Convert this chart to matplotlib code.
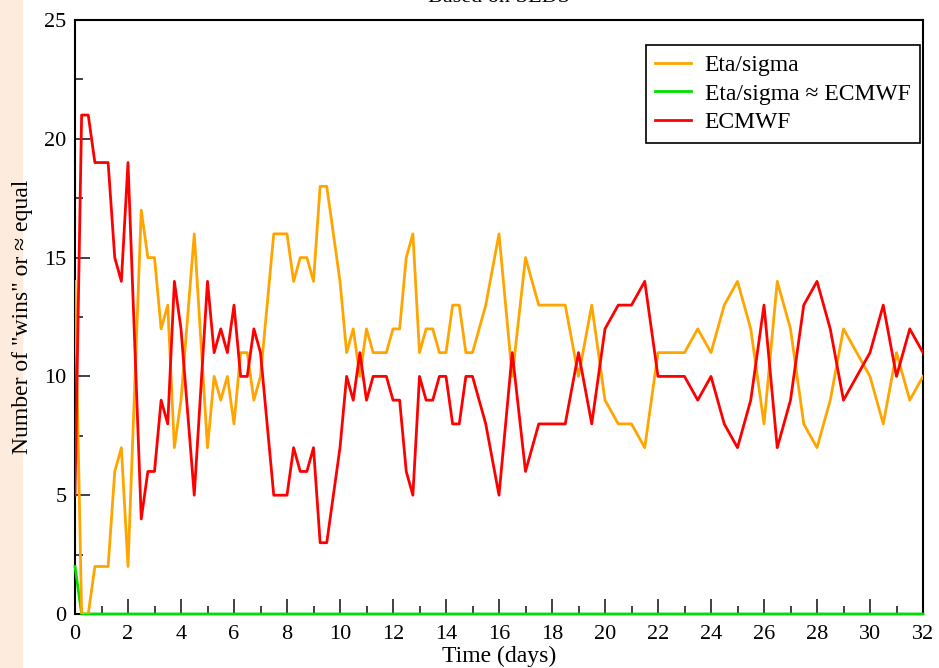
import matplotlib
matplotlib.use("Agg")
import matplotlib.pyplot as plt
from matplotlib.patches import Rectangle
from matplotlib.ticker import MultipleLocator

plt.rcParams['font.family'] = ['Liberation Serif', 'DejaVu Serif']

# Temps (jours) et nombre de "victoires"
time_days = [0, 0.25, 0.5, 0.75, 1.0, 1.25, 1.5, 1.75, 2.0, 2.5, 2.75, 3.0,
             3.25, 3.5, 3.75, 4.0, 4.5, 5.0, 5.25, 5.5, 5.75, 6.0, 6.25, 6.5,
             6.75, 7.0, 7.5, 8.0, 8.25, 8.5, 8.75, 9.0, 9.25, 9.5, 10.0, 10.25,
             10.5, 10.75, 11.0, 11.25, 11.75, 12.0, 12.25, 12.5, 12.75, 13.0,
             13.25, 13.5, 13.75, 14.0, 14.25, 14.5, 14.75, 15.0, 15.5, 16.0,
             16.5, 17.0, 17.5, 18.5, 19.0, 19.5, 20.0, 20.5, 21.0, 21.5, 22.0,
             23.0, 23.5, 24.0, 24.5, 25.0, 25.5, 26.0, 26.5, 27.0, 27.5, 28.0,
             28.5, 29.0, 30.0, 30.5, 31.0, 31.5, 32.0]

eta_sigma = [14, 0, 0, 2, 2, 2, 6, 7, 2, 17, 15, 15,
             12, 13, 7, 9, 16, 7, 10, 9, 10, 8, 11, 11,
             9, 10, 16, 16, 14, 15, 15, 14, 18, 18, 14, 11,
             12, 10, 12, 11, 11, 12, 12, 15, 16, 11,
             12, 12, 11, 11, 13, 13, 11, 11, 13, 16,
             10, 15, 13, 13, 10, 13, 9, 8, 8, 7, 11,
             11, 12, 11, 13, 14, 12, 8, 14, 12, 8, 7,
             9, 12, 10, 8, 11, 9, 10]

ecmwf = [5, 21, 21, 19, 19, 19, 15, 14, 19, 4, 6, 6,
         9, 8, 14, 12, 5, 14, 11, 12, 11, 13, 10, 10,
         12, 11, 5, 5, 7, 6, 6, 7, 3, 3, 7, 10,
         9, 11, 9, 10, 10, 9, 9, 6, 5, 10,
         9, 9, 10, 10, 8, 8, 10, 10, 8, 5,
         11, 6, 8, 8, 11, 8, 12, 13, 13, 14, 10,
         10, 9, 10, 8, 7, 9, 13, 7, 9, 13, 14,
         12, 9, 11, 13, 10, 12, 11]

equal_time = [0, 0.25, 32]
equal_vals = [2, 0, 0]

fig = plt.figure(figsize=(9.39, 6.68), dpi=100)
# bande beige à gauche
fig.patches.append(Rectangle((0, 0), 22 / 939, 1, transform=fig.transFigure,
                             color='#fdecdd', zorder=-10))
ax = fig.add_axes([75 / 939, 1 - 614 / 668, 848 / 939, 594 / 668])

ax.plot(equal_time, equal_vals, color='#00e000', lw=2, label='Eta/sigma \u2248 ECMWF',
        clip_on=False, zorder=3)
ax.plot(time_days, eta_sigma, color='orange', lw=2, label='Eta/sigma', zorder=4)
ax.plot(time_days, ecmwf, color='red', lw=2, label='ECMWF', zorder=5)

ax.set_xlim(0, 32)
ax.set_ylim(0, 25)
ax.xaxis.set_major_locator(MultipleLocator(2))
ax.xaxis.set_minor_locator(MultipleLocator(1))
ax.yaxis.set_major_locator(MultipleLocator(5))
ax.yaxis.set_minor_locator(MultipleLocator(2.5))
ax.tick_params(which='both', direction='in', top=False, right=False,
               labelsize=16, color='#333333', width=1.3)
ax.tick_params(axis='x', pad=8)
ax.tick_params(axis='y', pad=6)
ax.tick_params(which='major', length=11)
ax.tick_params(which='minor', length=6)
for sp in ax.spines.values():
    sp.set_linewidth(1.5)

ax.set_xlabel('Time (days)', fontsize=17)
ax.xaxis.set_label_coords(0.5, -(656 - 614) / 594)
ax.xaxis.label.set_va('center')
ax.set_ylabel('Number of "wins" or \u2248 equal', fontsize=17)
ax.yaxis.set_label_coords(-(75 - 23) / 848, 0.5)
ax.yaxis.label.set_va('center')
fig.text(499 / 939, 1.003, 'Based on SEDS', ha='center', va='center', fontsize=16)

handles, labels = ax.get_legend_handles_labels()
order = [1, 0, 2]
leg = ax.legend([handles[i] for i in order], [labels[i] for i in order],
                loc='upper right', bbox_to_anchor=((920 - 75) / 848, (614 - 45) / 594),
                borderaxespad=0, fontsize=17,
                fancybox=False, framealpha=1, edgecolor='black',
                handlelength=1.5, labelspacing=0.3, borderpad=0.4,
                handletextpad=0.6)
leg.get_frame().set_linewidth(1.2)

fig.savefig('out.png', dpi=100)
